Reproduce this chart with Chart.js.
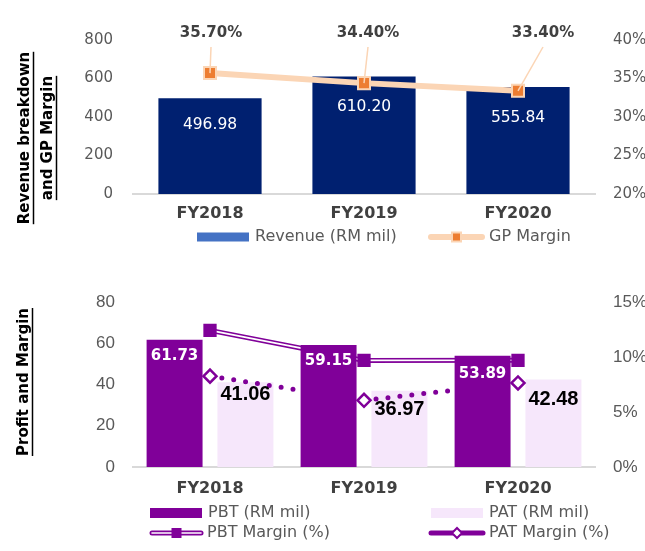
<!DOCTYPE html>
<html>
<head>
<meta charset="utf-8">
<script src="https://cdn.jsdelivr.net/npm/chart.js@4.4.1/dist/chart.umd.min.js"></script>
<style>
  html, body { margin: 0; padding: 0; background: #fff; }
  #wrap { position: relative; width: 645px; height: 551px; }
  .box { position: absolute; left: 0; width: 645px; }
  #top { top: 0; height: 260px; }
  #bot { top: 260px; height: 291px; }
</style>
</head>
<body>
<div id="wrap">
  <div class="box" id="top"><canvas id="revChart" width="645" height="260"></canvas></div>
  <div class="box" id="bot"><canvas id="profitChart" width="645" height="291"></canvas></div>
</div>
<script>
// data
const years = ['FY2018', 'FY2019', 'FY2020'];
const revenue = [496.98, 610.20, 555.84];
const gpMargin = [35.7, 34.4, 33.4];
const pbt = [61.73, 59.15, 53.89];
const pat = [41.06, 36.97, 42.48];
const pbtMargin = [12.42, 9.69, 9.70];
const patMargin = [8.26, 6.06, 7.64];

// axis ranges
const revAxis = { min: 0, max: 800, step: 200 };
const gpAxis = { min: 20, max: 40, step: 5 };
const profitAxis = { min: 0, max: 80, step: 20 };
const marginAxis = { min: 0, max: 15, step: 5 };

// colours
const NAVY = '#002070';
const LEGEND_BLUE = '#4472C4';
const PEACH = '#FBD5B5';
const ORANGE = '#ED7D31';
const PURPLE = '#800099';
const LILAC = '#F6E7FB';
const TICK_GREY = '#595959';
const DARK_GREY = '#404040';

const SANS = "'DejaVu Sans', Verdana, sans-serif";
const NARROW = "'Liberation Sans Narrow', 'Arial Narrow', sans-serif";

// rotated, underlined axis titles
function axisTitle(id, lines) {
    return {
        id: id,
        afterDraw(chart) {
            const ctx = chart.ctx;
            ctx.save();
            ctx.font = 'bold 15px ' + SANS;
            ctx.fillStyle = '#000';
            ctx.strokeStyle = '#000';
            ctx.lineWidth = 1.5;
            ctx.textAlign = 'center';
            ctx.textBaseline = 'middle';
            lines.forEach(l => {
                const w = ctx.measureText(l.text).width;
                ctx.save();
                ctx.translate(l.x, l.y);
                ctx.rotate(-Math.PI / 2);
                ctx.fillText(l.text, 0, 0);
                ctx.beginPath();
                ctx.moveTo(-w / 2, 8.5);
                ctx.lineTo(w / 2, 8.5);
                ctx.stroke();
                ctx.restore();
            });
            ctx.restore();
        }
    };
}

// value labels on bars, offset down from the bar top
function barLabels(id, dsIndex, font, color, dy) {
    return {
        id: id,
        afterDatasetsDraw(chart) {
            const ctx = chart.ctx;
            const ds = chart.data.datasets[dsIndex];
            ctx.save();
            ctx.font = font;
            ctx.fillStyle = color;
            ctx.textAlign = 'center';
            ctx.textBaseline = 'middle';
            chart.getDatasetMeta(dsIndex).data.forEach((el, i) => {
                ctx.fillText(ds.data[i].toFixed(2), el.x, el.y + dy[i]);
            });
            ctx.restore();
        }
    };
}

// GP margin labels above the plot with leader lines to the markers
function calloutLabels(id, dsIndex, dx, labelY) {
    return {
        id: id,
        afterDatasetsDraw(chart) {
            const ctx = chart.ctx;
            const ds = chart.data.datasets[dsIndex];
            ctx.save();
            chart.getDatasetMeta(dsIndex).data.forEach((el, i) => {
                const lx = el.x + dx[i];
                ctx.strokeStyle = PEACH;
                ctx.lineWidth = 1.5;
                ctx.beginPath();
                ctx.moveTo(lx, labelY + 14);
                ctx.lineTo(el.x, el.y);
                ctx.stroke();
                ctx.font = 'bold 15px ' + SANS;
                ctx.fillStyle = DARK_GREY;
                ctx.textAlign = 'center';
                ctx.textBaseline = 'middle';
                ctx.fillText(ds.data[i].toFixed(2) + '%', lx, labelY);
            });
            ctx.restore();
        }
    };
}

function drawSquare(ctx, x, y, s, fill, border, bw) {
    ctx.fillStyle = fill;
    ctx.fillRect(x - s / 2, y - s / 2, s, s);
    if (bw) {
        ctx.strokeStyle = border;
        ctx.lineWidth = bw;
        ctx.strokeRect(x - s / 2, y - s / 2, s, s);
    }
}

function drawSwatch(ctx, it) {
    const cx = it.x + it.w / 2;
    ctx.lineCap = 'round';
    if (it.kind === 'box') {
        ctx.fillStyle = it.color;
        ctx.fillRect(it.x, it.y - it.h / 2, it.w, it.h);
    } else if (it.kind === 'gp') {
        ctx.strokeStyle = PEACH;
        ctx.lineWidth = 6;
        ctx.beginPath(); ctx.moveTo(it.x + 3, it.y); ctx.lineTo(it.x + it.w - 3, it.y); ctx.stroke();
        drawSquare(ctx, cx, it.y, 9, ORANGE, PEACH, 2);
    } else if (it.kind === 'double') {
        ctx.strokeStyle = PURPLE;
        ctx.lineWidth = 5;
        ctx.beginPath(); ctx.moveTo(it.x + 3, it.y); ctx.lineTo(it.x + it.w - 3, it.y); ctx.stroke();
        ctx.strokeStyle = '#fff';
        ctx.lineWidth = 1.6;
        ctx.beginPath(); ctx.moveTo(it.x + 3, it.y); ctx.lineTo(it.x + it.w - 3, it.y); ctx.stroke();
        drawSquare(ctx, cx, it.y, 10, PURPLE, PURPLE, 0);
    } else if (it.kind === 'diamond') {
        ctx.strokeStyle = PURPLE;
        ctx.lineWidth = 5;
        ctx.beginPath(); ctx.moveTo(it.x + 3, it.y); ctx.lineTo(it.x + it.w - 3, it.y); ctx.stroke();
        ctx.beginPath();
        ctx.moveTo(cx - 5, it.y); ctx.lineTo(cx, it.y - 5); ctx.lineTo(cx + 5, it.y); ctx.lineTo(cx, it.y + 5);
        ctx.closePath();
        ctx.fillStyle = '#fff';
        ctx.fill();
        ctx.lineWidth = 2;
        ctx.stroke();
    }
}

function boxLegend(id, items) {
    return {
        id: id,
        afterDraw(chart) {
            const ctx = chart.ctx;
            ctx.save();
            items.forEach(it => {
                drawSwatch(ctx, it);
                ctx.font = '16px ' + SANS;
                ctx.fillStyle = TICK_GREY;
                ctx.textAlign = 'left';
                ctx.textBaseline = 'middle';
                ctx.fillText(chart.data.datasets[it.ds].label, it.tx, it.y);
            });
            ctx.restore();
        }
    };
}

const noGrid = { display: false, drawTicks: false };

// ---------- Revenue breakdown and GP Margin ----------
new Chart(document.getElementById('revChart'), {
    data: {
        labels: years,
        datasets: [
            {
                type: 'line', label: 'GP Margin', data: gpMargin, yAxisID: 'yR', order: 0,
                borderColor: PEACH, borderWidth: 6, tension: 0,
                pointStyle: 'rect', pointRadius: 8.5, pointBackgroundColor: ORANGE,
                pointBorderColor: PEACH, pointBorderWidth: 2
            },
            {
                type: 'bar', label: 'Revenue (RM mil)', data: revenue, yAxisID: 'y', order: 1,
                backgroundColor: NAVY, categoryPercentage: 1, barPercentage: 0.67
            }
        ]
    },
    options: {
        responsive: false, animation: false, devicePixelRatio: 1,
        layout: { padding: { top: 40, bottom: 36 } },
        plugins: { legend: { display: false }, tooltip: { enabled: false } },
        scales: {
            x: {
                grid: noGrid,
                border: { display: true, color: '#D9D9D9', width: 2 },
                ticks: { color: DARK_GREY, font: { family: SANS, size: 16, weight: 'bold' }, padding: 10 },
                afterFit(s) { s.height = 30; }
            },
            y: {
                position: 'left', min: revAxis.min, max: revAxis.max,
                grid: noGrid, border: { display: false },
                ticks: { stepSize: revAxis.step, color: TICK_GREY, font: { family: SANS, size: 15 }, padding: 20 },
                afterFit(s) { s.width = 133; }
            },
            yR: {
                position: 'right', min: gpAxis.min, max: gpAxis.max,
                grid: noGrid, border: { display: false },
                ticks: { stepSize: gpAxis.step, color: TICK_GREY, font: { family: SANS, size: 15 }, padding: 18,
                         callback: v => v + '%' },
                afterFit(s) { s.width = 50; }
            }
        }
    },
    plugins: [
        axisTitle('revTitle', [
            { text: 'Revenue breakdown', x: 25, y: 138 },
            { text: 'and GP Margin', x: 48, y: 138 }
        ]),
        barLabels('revLabels', 1, '15.5px ' + SANS, '#fff', [27, 30, 31]),
        calloutLabels('gpLabels', 0, [1, 4, 25], 33),
        boxLegend('revLegend', [
            { ds: 1, kind: 'box', color: LEGEND_BLUE, x: 197, w: 52, h: 9, y: 237, tx: 255 },
            { ds: 0, kind: 'gp', x: 428, w: 57, y: 237, tx: 489 }
        ])
    ]
});

// ---------- Profit and Margin ----------
new Chart(document.getElementById('profitChart'), {
    data: {
        labels: years,
        datasets: [
            {
                type: 'bar', label: 'PBT (RM mil)', data: pbt, yAxisID: 'y', order: 1,
                backgroundColor: PURPLE, categoryPercentage: 0.92, barPercentage: 0.79
            },
            {
                type: 'bar', label: 'PAT (RM mil)', data: pat, yAxisID: 'y', order: 6,
                backgroundColor: LILAC, categoryPercentage: 0.92, barPercentage: 0.79
            },
            {
                type: 'line', label: 'PBT Margin (%)', data: pbtMargin, yAxisID: 'yR', order: 4,
                borderColor: PURPLE, borderWidth: 5, pointRadius: 0, tension: 0
            },
            {
                type: 'line', label: 'PBT Margin inner', data: pbtMargin, yAxisID: 'yR', order: 3,
                borderColor: '#fff', borderWidth: 1.6, pointRadius: 0, tension: 0
            },
            {
                type: 'line', label: 'PBT Margin markers', data: pbtMargin, yAxisID: 'yR', order: 0,
                showLine: false, pointStyle: 'rect', pointRadius: 9.4,
                pointBackgroundColor: PURPLE, pointBorderWidth: 0
            },
            {
                type: 'line', label: 'PAT Margin (%)', data: patMargin, yAxisID: 'yR', order: 5,
                borderColor: PURPLE, borderWidth: 5, borderDash: [0, 12], borderCapStyle: 'round', tension: 0,
                pointStyle: 'rectRot', pointRadius: 6.5, pointBackgroundColor: '#fff',
                pointBorderColor: PURPLE, pointBorderWidth: 2.5
            }
        ]
    },
    options: {
        responsive: false, animation: false, devicePixelRatio: 1,
        layout: { padding: { top: 42, bottom: 54 } },
        plugins: { legend: { display: false }, tooltip: { enabled: false } },
        scales: {
            x: {
                grid: noGrid,
                border: { display: true, color: '#D9D9D9', width: 2 },
                ticks: { color: DARK_GREY, font: { family: SANS, size: 16, weight: 'bold' }, padding: 12 },
                afterFit(s) { s.height = 30; }
            },
            y: {
                position: 'left', min: profitAxis.min, max: profitAxis.max,
                grid: noGrid, border: { display: false },
                ticks: { stepSize: profitAxis.step, color: TICK_GREY, font: { family: NARROW, size: 17 }, padding: 18 },
                afterFit(s) { s.width = 133; }
            },
            yR: {
                position: 'right', min: marginAxis.min, max: marginAxis.max,
                grid: noGrid, border: { display: false },
                ticks: { stepSize: marginAxis.step, color: TICK_GREY, font: { family: NARROW, size: 17 }, padding: 18,
                         callback: v => v + '%' },
                afterFit(s) { s.width = 50; }
            }
        }
    },
    plugins: [
        axisTitle('profitTitle', [
            { text: 'Profit and Margin', x: 24, y: 122 }
        ]),
        barLabels('pbtLabels', 0, 'bold 15px ' + SANS, '#fff', [16, 16, 18.5]),
        barLabels('patLabels', 1, 'bold 20px ' + NARROW, '#000', [12, 19, 20]),
        boxLegend('profitLegend', [
            { ds: 0, kind: 'box', color: PURPLE, x: 150, w: 52, h: 10, y: 253, tx: 208 },
            { ds: 1, kind: 'box', color: LILAC, x: 431, w: 52, h: 10, y: 253, tx: 489 },
            { ds: 2, kind: 'double', x: 149, w: 55, y: 273, tx: 207 },
            { ds: 5, kind: 'diamond', x: 428, w: 58, y: 273, tx: 489 }
        ])
    ]
});
</script>
</body>
</html>
